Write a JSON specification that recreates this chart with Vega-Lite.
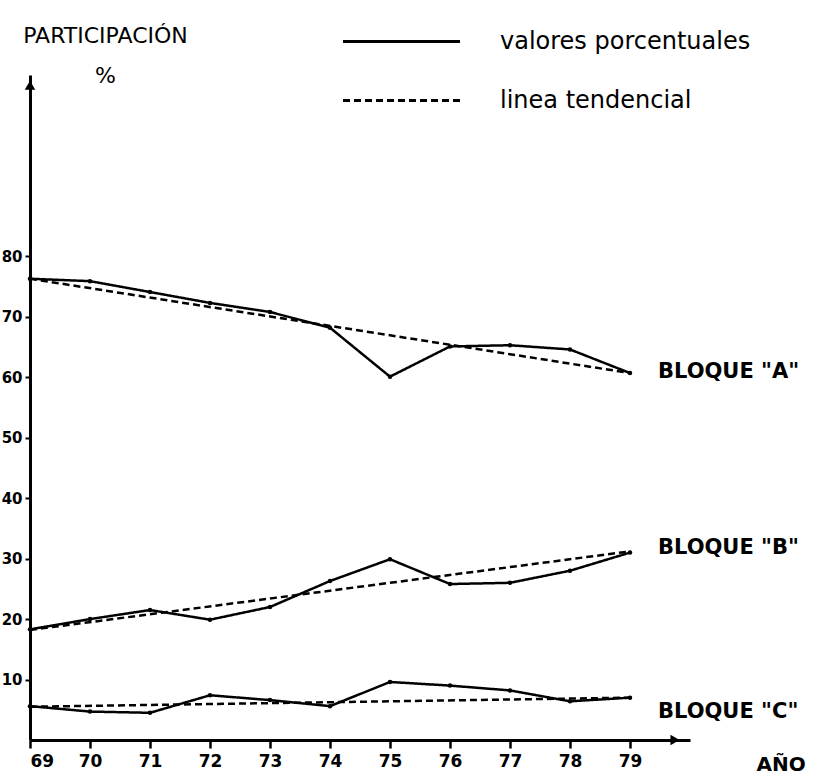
{
  "$schema": "https://vega.github.io/schema/vega-lite/v6.json",
  "width": 660,
  "height": 665,
  "autosize": {"type": "none"},
  "padding": {"left": 30, "top": 75, "right": 144, "bottom": 38},
  "background": "white",
  "config": {"view": {"stroke": null}, "font": "DejaVu Sans"},
  "datasets": {
    "series": [
      {"series": "A", "type": "valores porcentuales", "year": 69, "value": 76.3},
      {"series": "A", "type": "valores porcentuales", "year": 70, "value": 75.9},
      {"series": "A", "type": "valores porcentuales", "year": 71, "value": 74.1},
      {"series": "A", "type": "valores porcentuales", "year": 72, "value": 72.3},
      {"series": "A", "type": "valores porcentuales", "year": 73, "value": 70.8},
      {"series": "A", "type": "valores porcentuales", "year": 74, "value": 68.2},
      {"series": "A", "type": "valores porcentuales", "year": 75, "value": 60.1},
      {"series": "A", "type": "valores porcentuales", "year": 76, "value": 65.1},
      {"series": "A", "type": "valores porcentuales", "year": 77, "value": 65.3},
      {"series": "A", "type": "valores porcentuales", "year": 78, "value": 64.6},
      {"series": "A", "type": "valores porcentuales", "year": 79, "value": 60.7},
      {"series": "A", "type": "linea tendencial", "year": 69, "value": 76.3},
      {"series": "A", "type": "linea tendencial", "year": 79, "value": 60.7},
      {"series": "B", "type": "valores porcentuales", "year": 69, "value": 18.3},
      {"series": "B", "type": "valores porcentuales", "year": 70, "value": 20.0},
      {"series": "B", "type": "valores porcentuales", "year": 71, "value": 21.5},
      {"series": "B", "type": "valores porcentuales", "year": 72, "value": 19.9},
      {"series": "B", "type": "valores porcentuales", "year": 73, "value": 22.0},
      {"series": "B", "type": "valores porcentuales", "year": 74, "value": 26.3},
      {"series": "B", "type": "valores porcentuales", "year": 75, "value": 29.9},
      {"series": "B", "type": "valores porcentuales", "year": 76, "value": 25.8},
      {"series": "B", "type": "valores porcentuales", "year": 77, "value": 26.0},
      {"series": "B", "type": "valores porcentuales", "year": 78, "value": 28.0},
      {"series": "B", "type": "valores porcentuales", "year": 79, "value": 31.0},
      {"series": "B", "type": "linea tendencial", "year": 69, "value": 18.2},
      {"series": "B", "type": "linea tendencial", "year": 79, "value": 31.2},
      {"series": "C", "type": "valores porcentuales", "year": 69, "value": 5.6},
      {"series": "C", "type": "valores porcentuales", "year": 70, "value": 4.7},
      {"series": "C", "type": "valores porcentuales", "year": 71, "value": 4.5},
      {"series": "C", "type": "valores porcentuales", "year": 72, "value": 7.4},
      {"series": "C", "type": "valores porcentuales", "year": 73, "value": 6.6},
      {"series": "C", "type": "valores porcentuales", "year": 74, "value": 5.6},
      {"series": "C", "type": "valores porcentuales", "year": 75, "value": 9.6},
      {"series": "C", "type": "valores porcentuales", "year": 76, "value": 9.0},
      {"series": "C", "type": "valores porcentuales", "year": 77, "value": 8.2},
      {"series": "C", "type": "valores porcentuales", "year": 78, "value": 6.4},
      {"series": "C", "type": "valores porcentuales", "year": 79, "value": 7.0},
      {"series": "C", "type": "linea tendencial", "year": 69, "value": 5.5},
      {"series": "C", "type": "linea tendencial", "year": 79, "value": 7.0}
    ],
    "labels": [
      {"year": 79, "value": 60.8, "label": "BLOQUE \"A\""},
      {"year": 79, "value": 31.7, "label": "BLOQUE \"B\""},
      {"year": 79, "value": 4.6, "label": "BLOQUE \"C\""}
    ],
    "arrows": [
      {"year": 69, "value": 108.3, "shape": "triangle-up"},
      {"year": 79.75, "value": 0, "shape": "triangle-right"}
    ]
  },
  "layer": [
    {
      "data": {"name": "series"},
      "mark": {"type": "line", "color": "black", "strokeWidth": 2.5},
      "encoding": {
        "x": {
          "field": "year", "type": "quantitative",
          "scale": {"domain": [69, 80], "nice": false, "zero": false},
          "axis": {
            "values": [69, 70, 71, 72, 73, 74, 75, 76, 77, 78, 79],
            "format": "d", "grid": false,
            "domainColor": "black", "domainWidth": 3,
            "tickColor": "black", "tickWidth": 2.5, "tickSize": 8,
            "labelColor": "black", "labelFontSize": 17, "labelFontWeight": "bold", "labelPadding": 5,
            "title": "AÑO", "titleX": 726, "titleY": 24, "titleAlign": "left", "titleBaseline": "middle",
            "titleFontSize": 20, "titleFontWeight": "bold", "titleColor": "black"
          }
        },
        "y": {
          "field": "value", "type": "quantitative",
          "scale": {"domain": [0, 110], "nice": false},
          "axis": {
            "values": [10, 20, 30, 40, 50, 60, 70, 80],
            "grid": false,
            "domainColor": "black", "domainWidth": 3,
            "tickColor": "black", "tickWidth": 2, "tickSize": 5,
            "labelColor": "black", "labelFontSize": 15, "labelFontWeight": "bold", "labelPadding": 3,
            "title": ["PARTICIPACIÓN", "%"], "titleAngle": 0, "titleX": 75, "titleY": -40,
            "titleAlign": "center", "titleBaseline": "middle", "titleLineHeight": 40,
            "titleFontSize": 22, "titleFontWeight": "normal", "titleColor": "black"
          }
        },
        "strokeDash": {
          "field": "type", "type": "nominal",
          "scale": {"domain": ["valores porcentuales", "linea tendencial"], "range": [[1, 0], [7, 4]]},
          "legend": {
            "title": null, "orient": "none", "legendX": 325, "legendY": -80,
            "symbolType": "M-1.3,0H1.3", "symbolSize": 8100, "symbolStrokeWidth": 3,
            "symbolStrokeColor": "black", "symbolFillColor": "black",
            "labelFontSize": 24, "labelColor": "black", "labelOffset": 52, "labelLimit": 400,
            "rowPadding": 0
          }
        },
        "detail": {"field": "series"}
      }
    },
    {
      "data": {"name": "series"},
      "transform": [{"filter": "datum.type === 'valores porcentuales'"}],
      "mark": {"type": "point", "filled": true, "color": "black", "size": 20, "opacity": 1},
      "encoding": {
        "x": {"field": "year", "type": "quantitative"},
        "y": {"field": "value", "type": "quantitative"}
      }
    },
    {
      "data": {"name": "labels"},
      "mark": {"type": "text", "align": "left", "baseline": "middle", "dx": 28, "fontSize": 21, "fontWeight": "bold", "color": "black"},
      "encoding": {
        "x": {"field": "year", "type": "quantitative"},
        "y": {"field": "value", "type": "quantitative"},
        "text": {"field": "label"}
      }
    },
    {
      "data": {"name": "arrows"},
      "mark": {"type": "point", "filled": true, "color": "black", "size": 110, "opacity": 1},
      "encoding": {
        "x": {"field": "year", "type": "quantitative"},
        "y": {"field": "value", "type": "quantitative"},
        "shape": {"field": "shape", "type": "nominal", "scale": null, "legend": null}
      }
    }
  ]
}
